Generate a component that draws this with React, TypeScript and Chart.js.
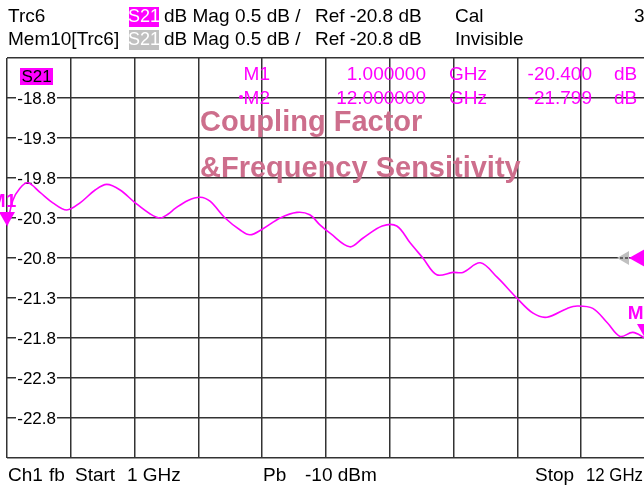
import React, { useEffect, useRef } from "react";
import { Chart, registerables } from "chart.js";

Chart.register(...registerables);

// ---- data ----
const freqGHz = [
  1.0, 1.1, 1.22, 1.36, 1.57, 1.79, 2.03, 2.26, 2.52, 2.72, 2.95, 3.21, 3.47,
  3.64, 3.78, 3.9, 4.12, 4.33, 4.5, 4.76, 5.02, 5.19, 5.4, 5.71, 6.0, 6.22,
  6.4, 6.57, 6.91, 7.14, 7.47, 7.72, 7.95, 8.17, 8.41, 8.69, 8.86, 9.16, 9.45,
  9.79, 10.07, 10.31, 10.66, 10.83, 11.1, 11.35, 11.57, 11.79, 12.0,
];
const s21dB = [
  -20.4, -20.08, -19.93, -19.86, -19.98, -20.11, -20.2, -20.11, -19.95, -19.88,
  -19.95, -20.11, -20.25, -20.3, -20.25, -20.18, -20.08, -20.04, -20.09, -20.3,
  -20.45, -20.51, -20.44, -20.3, -20.23, -20.26, -20.39, -20.49, -20.66, -20.55,
  -20.4, -20.4, -20.61, -20.8, -21.01, -20.98, -20.98, -20.86, -21.04, -21.3,
  -21.49, -21.54, -21.43, -21.4, -21.43, -21.61, -21.78, -21.73, -21.8,
];
const xGridGHz = [1, 2.1, 3.2, 4.3, 5.4, 6.5, 7.6, 8.7, 9.8, 10.9, 12];
const yGridDB = [-23.3, -22.8, -22.3, -21.8, -21.3, -20.8, -20.3, -19.8, -19.3, -18.8, -18.3];
const yTickLabels = ["-18.8", "-19.3", "-19.8", "-20.3", "-20.8", "-21.3", "-21.8", "-22.3", "-22.8"];
const markerNames = ["M1", "M2"];
const markerFreqs = [1.0, 12.0];
const markerValues = [-20.4, -21.799];
const markerFreqText = ["1.000000", "12.000000"];
const markerValueText = ["-20.400", "-21.799"];
const refLevel = -20.8;
const titleLines = ["Coupling Factor", "&Frequency Sensitivity"];

const MAG = "#ff00ff";
const FONT = "'Liberation Sans', Arial, sans-serif";

const overlay = {
  id: "vnaOverlay",
  beforeDatasetsDraw(chart: any) {
    const { ctx } = chart;
    const ys = chart.scales.y;
    ctx.save();
    ctx.font = `17px ${FONT}`;
    ctx.textAlign = "right";
    ctx.textBaseline = "middle";
    yTickLabels.forEach((lbl) => {
      const py = ys.getPixelForValue(parseFloat(lbl));
      ctx.fillStyle = "#fff";
      ctx.fillRect(16, py - 8, 41, 16);
      ctx.fillStyle = "#000";
      ctx.fillText(lbl, 56, py + 1);
    });
    // S21 tag inside plot
    ctx.fillStyle = MAG;
    ctx.fillRect(20, 68, 33, 17);
    ctx.fillStyle = "#000";
    ctx.textAlign = "center";
    ctx.fillText("S21", 36.5, 77);
    ctx.restore();
  },
  afterDatasetsDraw(chart: any) {
    const { ctx, chartArea } = chart;
    const xs = chart.scales.x;
    const ys = chart.scales.y;
    ctx.save();
    // title
    ctx.fillStyle = "#cd6e8c";
    ctx.font = `bold 29px ${FONT}`;
    ctx.textAlign = "left";
    ctx.textBaseline = "alphabetic";
    ctx.fillText(titleLines[0], 200, 131);
    ctx.fillText(titleLines[1], 200, 177);

    // marker table
    ctx.fillStyle = MAG;
    ctx.font = `19px ${FONT}`;
    ctx.textBaseline = "middle";
    [0, 1].forEach((i) => {
      const yy = 75 + i * 24;
      ctx.textAlign = "right";
      ctx.fillText(markerNames[i], 270, yy);
      ctx.fillText(markerFreqText[i], 426, yy);
      ctx.fillText(markerValueText[i], 592, yy);
      ctx.textAlign = "left";
      ctx.fillText("GHz", 449, yy);
      ctx.fillText("dB", 614, yy);
    });
    ctx.beginPath();
    ctx.arc(241, 97, 2, 0, Math.PI * 2);
    ctx.fill();

    // markers
    markerFreqs.forEach((f, i) => {
      const px = xs.getPixelForValue(f);
      const py = ys.getPixelForValue(markerValues[i]);
      ctx.fillStyle = MAG;
      ctx.beginPath();
      ctx.moveTo(px - 8, py - 14);
      ctx.lineTo(px + 8, py - 14);
      ctx.lineTo(px, py);
      ctx.closePath();
      ctx.fill();
      ctx.font = `bold 19px ${FONT}`;
      ctx.textAlign = "center";
      ctx.textBaseline = "alphabetic";
      ctx.fillText(markerNames[i], px - 4, py - 19);
    });

    // reference arrows
    const ry = ys.getPixelForValue(refLevel);
    const r = chartArea.right;
    ctx.fillStyle = "#c0c0c0";
    ctx.beginPath();
    ctx.moveTo(r - 28, ry);
    ctx.lineTo(r - 16, ry - 7);
    ctx.lineTo(r - 16, ry + 7);
    ctx.closePath();
    ctx.fill();
    ctx.strokeStyle = "#444";
    ctx.lineWidth = 1.5;
    ctx.setLineDash([3, 2]);
    ctx.beginPath();
    ctx.moveTo(r - 25, ry);
    ctx.lineTo(r - 16, ry);
    ctx.stroke();
    ctx.setLineDash([]);
    ctx.fillStyle = MAG;
    ctx.beginPath();
    ctx.moveTo(r - 16, ry);
    ctx.lineTo(r, ry - 9);
    ctx.lineTo(r, ry + 9);
    ctx.closePath();
    ctx.fill();
    ctx.restore();
  },
  afterDraw(chart: any) {
    const { ctx } = chart;
    ctx.save();
    ctx.font = `19px ${FONT}`;
    ctx.textBaseline = "middle";
    ctx.textAlign = "left";
    ctx.fillStyle = "#000";
    // header rows
    ctx.fillText("Trc6", 8, 17);
    ctx.fillText("Mem10[Trc6]", 8, 40);
    [17, 40].forEach((yy) => {
      ctx.fillText("dB Mag", 164, yy);
      ctx.fillText("0.5 dB /", 235, yy);
      ctx.fillText("Ref -20.8 dB", 315, yy, 114);
    });
    ctx.fillText("Cal", 455, 17);
    ctx.fillText("Invisible", 455, 40);
    ctx.fillText("3", 634, 17);
    // trace tags
    ctx.fillStyle = MAG;
    ctx.fillRect(129, 7, 30, 20);
    ctx.fillStyle = "#c0c0c0";
    ctx.fillRect(129, 30, 30, 20);
    ctx.fillStyle = "#fff";
    ctx.font = `18px ${FONT}`;
    ctx.textAlign = "center";
    ctx.fillText("S21", 144, 17);
    ctx.fillText("S21", 144, 40);
    // footer
    ctx.fillStyle = "#000";
    ctx.font = `19px ${FONT}`;
    ctx.textAlign = "left";
    ctx.fillText("Ch1", 8, 476);
    ctx.fillText("fb", 49, 476);
    ctx.fillText("Start", 75, 476);
    ctx.fillText("1 GHz", 127, 476);
    ctx.fillText("Pb", 263, 476);
    ctx.fillText("-10 dBm", 305, 476);
    ctx.fillText("Stop", 535, 476);
    ctx.font = `18px ${FONT}`;
    ctx.fillText("12 GHz", 586, 476, 57);
    ctx.restore();
  },
};

export default function App() {
  const ref = useRef<HTMLCanvasElement | null>(null);
  useEffect(() => {
    if (!ref.current) return;
    const chart = new Chart(ref.current, {
      type: "line",
      data: {
        datasets: [
          {
            label: "S21",
            data: freqGHz.map((f, i) => ({ x: f, y: s21dB[i] })),
            borderColor: MAG,
            borderWidth: 1.6,
            pointRadius: 0,
            tension: 0.35,
            fill: false,
          },
        ],
      },
      options: {
        animation: false,
        responsive: false,
        devicePixelRatio: 1,
        layout: { padding: { left: 7, right: 7, top: 58, bottom: 30 } },
        plugins: { legend: { display: false }, tooltip: { enabled: false } },
        scales: {
          x: {
            type: "linear",
            min: 1,
            max: 12,
            afterBuildTicks: (s: any) => {
              s.ticks = xGridGHz.map((v) => ({ value: v }));
            },
            ticks: { display: false },
            grid: { color: "#333", lineWidth: 1.5, drawTicks: false },
            border: { display: false },
          },
          y: {
            type: "linear",
            min: -23.3,
            max: -18.3,
            afterBuildTicks: (s: any) => {
              s.ticks = yGridDB.map((v) => ({ value: v }));
            },
            ticks: { display: false },
            grid: { color: "#333", lineWidth: 1.5, drawTicks: false },
            border: { display: false },
          },
        },
      },
      plugins: [overlay],
    });
    return () => chart.destroy();
  }, []);
  return (
    <div
      style={{
        position: "fixed",
        left: 0,
        top: 0,
        width: 644,
        height: 488,
        overflow: "hidden",
        background: "#fff",
      }}
    >
      <canvas ref={ref} width={652} height={488} style={{ display: "block" }} />
    </div>
  );
}
